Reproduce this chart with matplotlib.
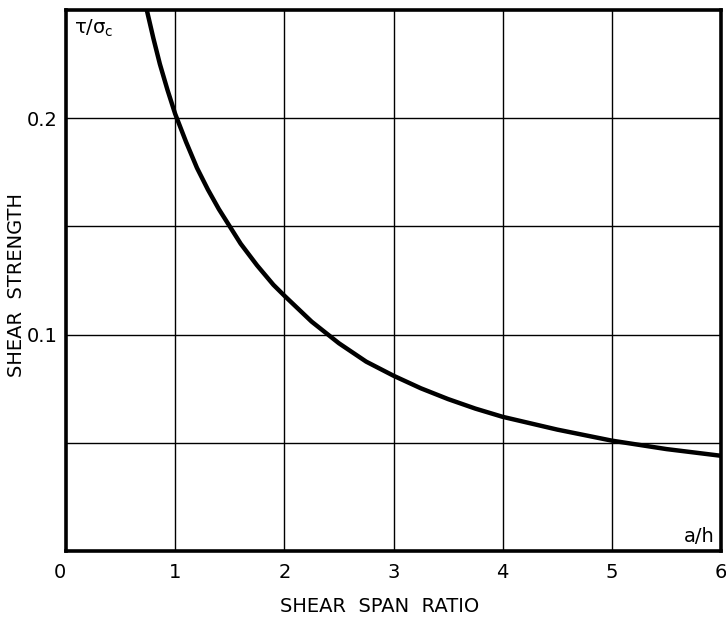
import matplotlib
matplotlib.use("Agg")
import matplotlib.pyplot as plt

# Data
span_ratio = [0.74, 0.80, 0.86, 0.93, 1.0, 1.1, 1.2, 1.3, 1.4, 1.5, 1.6, 1.75, 1.9, 2.0,
              2.25, 2.5, 2.75, 3.0, 3.25, 3.5, 3.75, 4.0, 4.5, 5.0, 5.5, 6.0]
shear_strength = [0.250, 0.237, 0.225, 0.213, 0.202, 0.189, 0.177, 0.167, 0.158, 0.150,
                  0.142, 0.132, 0.123, 0.118, 0.106, 0.096, 0.0875, 0.081, 0.0752, 0.0702,
                  0.0658, 0.062, 0.0561, 0.051, 0.0471, 0.044]
x_ticks = [0, 1, 2, 3, 4, 5, 6]
x_tick_labels = ["0", "1", "2", "3", "4", "5", "6"]
y_grid = [0.05, 0.10, 0.15, 0.20]
y_tick_vals = [0.1, 0.2]
y_tick_labels = ["0.1", "0.2"]

plt.rcParams['font.family'] = ['DejaVu Sans']

fig = plt.figure(figsize=(7.26, 6.2), dpi=100)
ax = fig.add_axes([66/726, 69/620, 655/726, 541/620])

ax.set_xlim(0, 6)
ax.set_ylim(0, 0.25)

for xv in x_ticks[1:-1]:
    ax.axvline(xv, color='black', lw=1.0, zorder=1)
for yv in y_grid:
    ax.axhline(yv, color='black', lw=1.0, zorder=1)

ax.plot(span_ratio, shear_strength, color='black', lw=3.2, solid_capstyle='butt',
        solid_joinstyle='round', zorder=3, clip_on=True)

ax.set_xticks(x_ticks)
ax.set_xticklabels(x_tick_labels)
ax.set_yticks(y_tick_vals)
ax.set_yticklabels(y_tick_labels)
ax.tick_params(length=0, labelsize=14, pad=9)
ax.tick_params(axis='y', pad=6)
labels = ax.get_xticklabels()
labels[0].set_horizontalalignment('right')

for s in ax.spines.values():
    s.set_linewidth(2.6)
    s.set_color('black')

fig.text(380/726, 1 - 607/620, "SHEAR  SPAN  RATIO", fontsize=14, ha='center', va='center')
fig.text(17/726, 1 - 285/620, "SHEAR  STRENGTH", fontsize=14, ha='center', va='center',
         rotation=90)

ax.text(0.012, 0.985, r'$\mathregular{\tau/\sigma_c}$', transform=ax.transAxes,
        ha='left', va='top', fontsize=14)
ax.text(0.99, 0.01, 'a/h', transform=ax.transAxes, ha='right', va='bottom', fontsize=14)

fig.savefig("out.png", dpi=100)
